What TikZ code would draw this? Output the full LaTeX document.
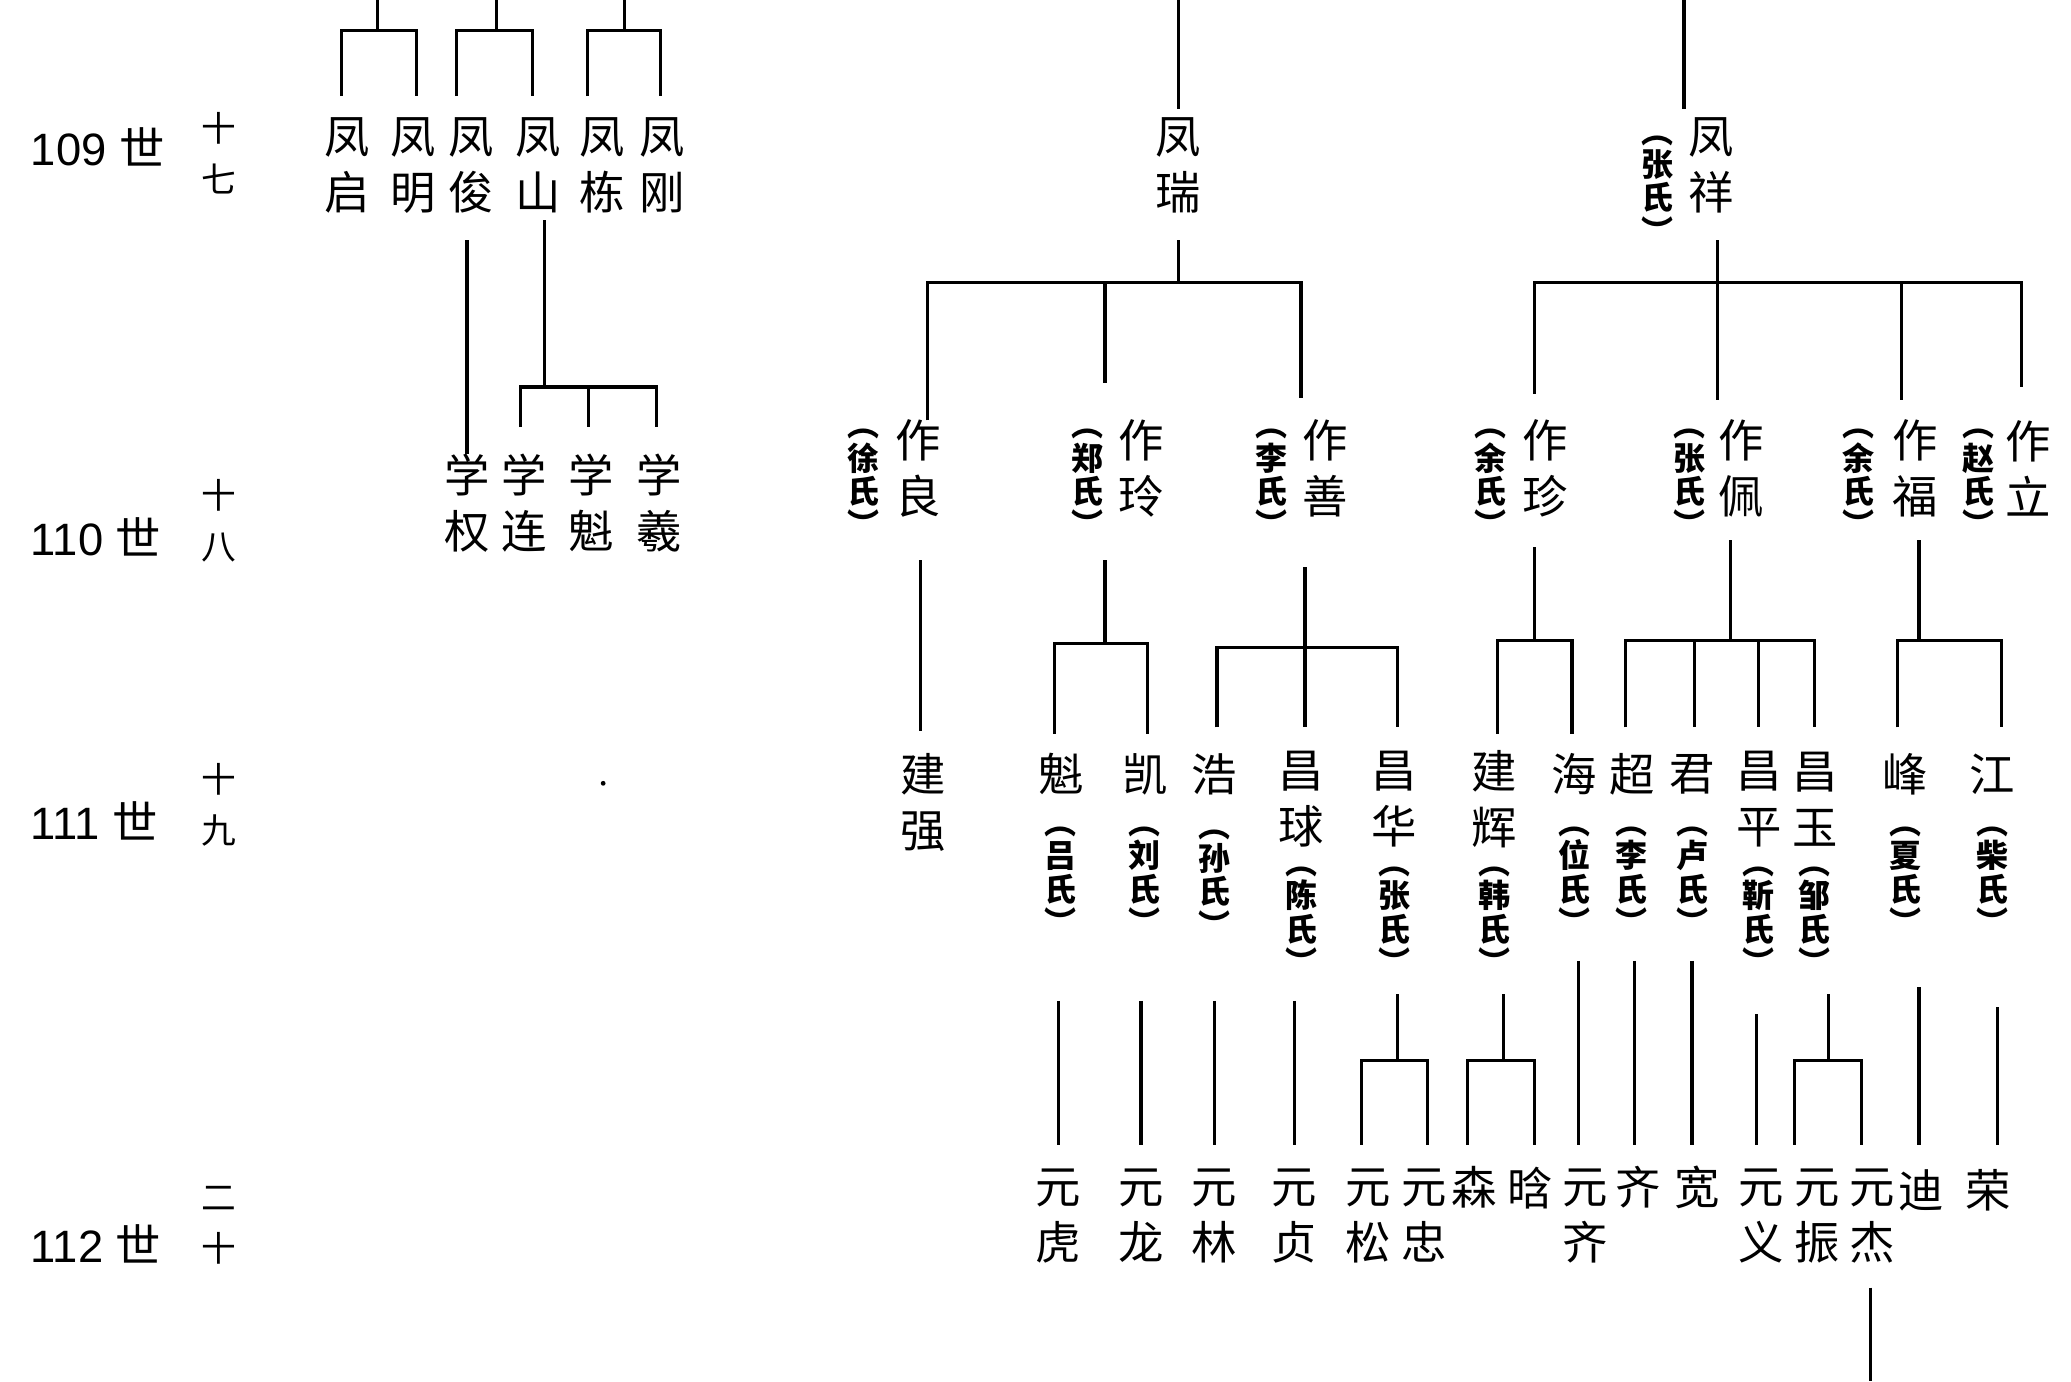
\documentclass[tikz,border=0pt]{standalone}
\usepackage{fontspec}
\newfontfamily\cjk{Noto Sans CJK SC}
\setmainfont{Liberation Sans}
\begin{document}
\begin{tikzpicture}[x=1pt,y=-1pt,line width=2.4pt,
 nm/.style={font=\cjk\fontsize{34}{42}\selectfont,align=center,inner sep=0pt},
 sp/.style={font=\cjk\bfseries\fontsize{24}{25}\selectfont,align=center,inner sep=0pt},
 sm/.style={font=\cjk\fontsize{26}{38}\selectfont,align=center,inner sep=0pt},
 gl/.style={font=\fontsize{34}{40}\selectfont,inner sep=0pt,anchor=west}]
\useasboundingbox[fill=white] (0,0) rectangle (1552,1035);
% generation labels
\node[gl] (g109) at (22,110) {109 {\cjk 世}};
\node[sm] (c109) at (164,115) {十\\七};
\node[gl] (g110) at (22,402) {110 {\cjk 世}};
\node[sm] (c110) at (164,390) {十\\八};
\node[gl] (g111) at (22,615) {111 {\cjk 世}};
\node[sm] (c111) at (164,603) {十\\九};
\node[gl] (g112) at (22,932) {112 {\cjk 世}};
\node[sm] (c112) at (164,918) {二\\十};
% gen 109 left
\foreach \x/\t [count=\i] in {260/启,310/明,353/俊,403/山,451/栋,496/刚}
  \node[nm] (a\i) at (\x,124) {凤\\\t};
\foreach \p/\l/\r in {283/256/312,372/342/399,468/440/495}{
  \draw (\p,0) -- (\p,23); \draw (\l,72) -- (\l,23) -- (\r,23) -- (\r,72);}
\draw (350,180) -- (350,340);
\node[nm] (b1) at (350,377) {学\\权};
\draw (408,165) -- (408,290); \draw (390,320) -- (390,290) -- (492,290) -- (492,320); \draw (441,290) -- (441,320);
\node[nm] (b2) at (393,377) {学\\连};
\node[nm] (b3) at (443,377) {学\\魁};
\node[nm] (b4) at (494,377) {学\\羲};
\fill (452,587) circle (1.8);
% 凤瑞
\draw (883,0) -- (883,82);
\node[nm] (fr) at (883,124) {凤\\瑞};
\draw (883,180) -- (883,212);
\draw (695,315) -- (695,212) -- (975,212) -- (975,298); \draw (828,212) -- (828,287);
\node[nm] (zl) at (688,351) {作\\良}; \node[sp] (zls) at (647,362) {︵\\徐\\氏\\︶};
\node[nm] (zli) at (855,351) {作\\玲}; \node[sp] (zlis) at (815,362) {︵\\郑\\氏\\︶};
\node[nm] (zs) at (993,351) {作\\善}; \node[sp] (zss) at (953,362) {︵\\李\\氏\\︶};
% 凤祥
\draw (1262,0) -- (1262,82);
\node[nm] (fx) at (1282,124) {凤\\祥}; \node[sp] (fxs) at (1242,142) {︵\\张\\氏\\︶};
\draw (1287,180) -- (1287,212);
\draw (1150,295) -- (1150,212) -- (1515,212) -- (1515,290);
\draw (1287,212) -- (1287,300); \draw (1425,212) -- (1425,300);
\node[nm] (zz) at (1158,351) {作\\珍}; \node[sp] (zzs) at (1117,362) {︵\\余\\氏\\︶};
\node[nm] (zp) at (1305,351) {作\\佩}; \node[sp] (zps) at (1266,362) {︵\\张\\氏\\︶};
\node[nm] (zf) at (1435,351) {作\\福}; \node[sp] (zfs) at (1393,362) {︵\\余\\氏\\︶};
\node[nm] (zli2) at (1520,351) {作\\立}; \node[sp] (zl2s) at (1483,362) {︵\\赵\\氏\\︶};
% gen 111
\draw (690,420) -- (690,548);
\node[nm] (jq) at (692,601) {建\\强};
\draw (828,420) -- (828,482); \draw (790,550) -- (790,482) -- (860,482) -- (860,550);
\node[nm] (k1) at (795,580) {魁}; \node[sp] (k1s) at (795,660) {︵\\吕\\氏\\︶};
\node[nm] (k2) at (858,580) {凯}; \node[sp] (k2s) at (858,660) {︵\\刘\\氏\\︶};
\draw (978,425) -- (978,545); \draw (912,545) -- (912,485) -- (1047,485) -- (1047,545);
\node[nm] (h) at (910,580) {浩}; \node[sp] (hs) at (910,662) {︵\\孙\\氏\\︶};
\node[nm] (cq) at (975,599) {昌\\球}; \node[sp] (cqs) at (975,690) {︵\\陈\\氏\\︶};
\node[nm] (ch) at (1045,599) {昌\\华}; \node[sp] (chs) at (1045,690) {︵\\张\\氏\\︶};
\draw (1150,410) -- (1150,480); \draw (1122,550) -- (1122,480) -- (1178,480) -- (1178,550);
\node[nm] (jh) at (1120,599) {建\\辉}; \node[sp] (jhs) at (1120,690) {︵\\韩\\氏\\︶};
\node[nm] (hai) at (1180,580) {海}; \node[sp] (hais) at (1180,660) {︵\\位\\氏\\︶};
\draw (1297,405) -- (1297,480); \draw (1218,545) -- (1218,480) -- (1360,480) -- (1360,545);
\draw (1270,480) -- (1270,545); \draw (1318,480) -- (1318,545);
\node[nm] (chao) at (1223,580) {超}; \node[sp] (chaos) at (1223,660) {︵\\李\\氏\\︶};
\node[nm] (jun) at (1268,580) {君}; \node[sp] (juns) at (1268,660) {︵\\卢\\氏\\︶};
\node[nm] (cp) at (1318,599) {昌\\平}; \node[sp] (cps) at (1318,690) {︵\\靳\\氏\\︶};
\node[nm] (cy) at (1360,599) {昌\\玉}; \node[sp] (cys) at (1360,690) {︵\\邹\\氏\\︶};
\draw (1438,405) -- (1438,480); \draw (1422,545) -- (1422,480) -- (1500,480) -- (1500,545);
\node[nm] (feng) at (1428,580) {峰}; \node[sp] (fengs) at (1428,660) {︵\\夏\\氏\\︶};
\node[nm] (jiang) at (1493,580) {江}; \node[sp] (jiangs) at (1493,660) {︵\\柴\\氏\\︶};
% gen 112
\foreach \x/\t in {793/虎,855/龙,910/林,970/贞}{
  \draw (\x,750) -- (\x,858); \node[nm] at (\x,911) {元\\\t};}
\draw (1047,745) -- (1047,795); \draw (1020,858) -- (1020,795) -- (1070,795) -- (1070,858);
\node[nm] (ys) at (1025,911) {元\\松}; \node[nm] (yz) at (1067,911) {元\\忠};
\draw (1127,745) -- (1127,795); \draw (1100,858) -- (1100,795) -- (1150,795) -- (1150,858);
\node[nm] (sen) at (1105,890) {森}; \node[nm] (han) at (1147,890) {晗};
\draw (1183,720) -- (1183,858); \node[nm] (yq) at (1188,911) {元\\齐};
\draw (1225,720) -- (1225,858); \node[nm] (qi) at (1228,890) {齐};
\draw (1268,720) -- (1268,858); \node[nm] (kuan) at (1272,890) {宽};
\draw (1316,760) -- (1316,858); \node[nm] (yy) at (1320,911) {元\\义};
\draw (1370,745) -- (1370,795); \draw (1345,858) -- (1345,795) -- (1395,795) -- (1395,858);
\node[nm] (yzh) at (1362,911) {元\\振}; \node[nm] (yj) at (1403,911) {元\\杰};
\draw (1438,740) -- (1438,858); \node[nm] (di) at (1440,892) {迪};
\draw (1497,755) -- (1497,858); \node[nm] (rong) at (1490,892) {荣};
\draw (1402,965) -- (1402,1035);
\end{tikzpicture}
\end{document}
